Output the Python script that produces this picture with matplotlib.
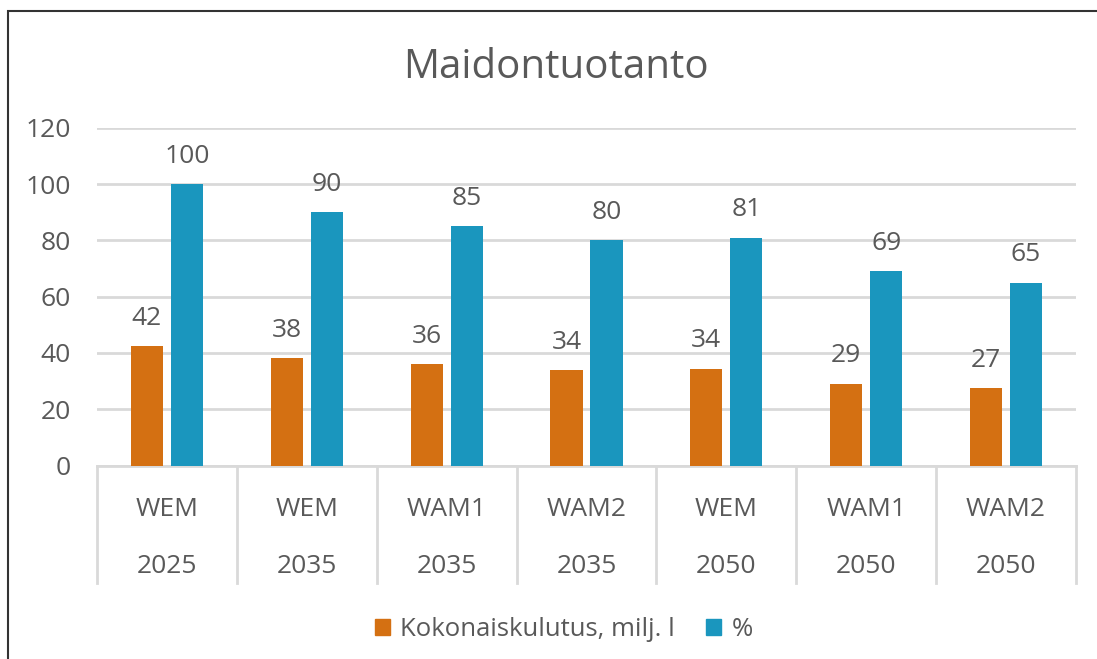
import numpy as np
import matplotlib.pyplot as plt
from matplotlib.patches import Rectangle, Patch

plt.rcParams['font.family'] = ['Open Sans', 'DejaVu Sans']

scenarios = ['WEM', 'WEM', 'WAM1', 'WAM2', 'WEM', 'WAM1', 'WAM2']
years = ['2025', '2035', '2035', '2035', '2050', '2050', '2050']
kulutus = [42.3, 38.1, 36.0, 34.0, 34.4, 29.1, 27.4]
prosentti = [100, 90, 85, 80, 81, 69, 65]
series_names = ['Kokonaiskulutus, milj. l', '%']

orange = '#D47012'
blue = '#1A96BE'
txt = '#595959'
grid_c = '#D9D9D9'
fs = 19

fig = plt.figure(figsize=(10.97, 6.59), dpi=100)
ax = fig.add_axes([0.0884, 0.2936, 0.8924, 0.5126])

x = np.arange(len(scenarios))
w = 0.23
off = 0.143
b1 = ax.bar(x - off, kulutus, w, color=orange, zorder=3)
b2 = ax.bar(x + off, prosentti, w, color=blue, zorder=3)
ax.bar_label(b1, labels=['%.0f' % v for v in kulutus], padding=11, fontsize=fs, color=txt)
ax.bar_label(b2, labels=['%.0f' % v for v in prosentti], padding=11, fontsize=fs, color=txt)

ax.set_xlim(-0.5, len(scenarios) - 0.5)
ax.set_ylim(0, 120)
ax.set_yticks(range(0, 121, 20))
ax.yaxis.grid(True, color=grid_c, linewidth=2, zorder=0)
ax.tick_params(axis='y', length=0, labelsize=fs, labelcolor=txt, pad=19)
ax.set_xticks([])
for s in ['top', 'right', 'left']:
    ax.spines[s].set_visible(False)
ax.spines['bottom'].set_color(grid_c)
ax.spines['bottom'].set_linewidth(2)

# category table under the axis
tr = ax.get_xaxis_transform()
for b in np.arange(-0.5, len(scenarios), 1.0):
    ax.plot([b, b], [0, -0.348], transform=tr, color=grid_c, lw=2, clip_on=False)
for i in range(len(scenarios)):
    ax.text(i, -0.13, scenarios[i], transform=tr, ha='center', va='center', fontsize=fs, color=txt)
    ax.text(i, -0.30, years[i], transform=tr, ha='center', va='center', fontsize=fs, color=txt)

fig.text(0.507, 0.897, 'Maidontuotanto', ha='center', va='center', fontsize=29, color=txt)

handles = [Patch(color=orange), Patch(color=blue)]
fig.legend(handles, series_names, loc='center', bbox_to_anchor=(0.514, 0.045), ncol=2,
           frameon=False, fontsize=18.5, labelcolor=txt, handlelength=0.6, handleheight=0.6,
           handletextpad=0.4, columnspacing=1.2)

# outer border (runs off the right and bottom edge)
fig.patches.append(Rectangle((8 / 1097, -0.05), 1.2, 1 - 11 / 659 + 0.05, transform=fig.transFigure,
                             fill=False, edgecolor='#333333', linewidth=1.5))

fig.savefig('out.png', dpi=100)
